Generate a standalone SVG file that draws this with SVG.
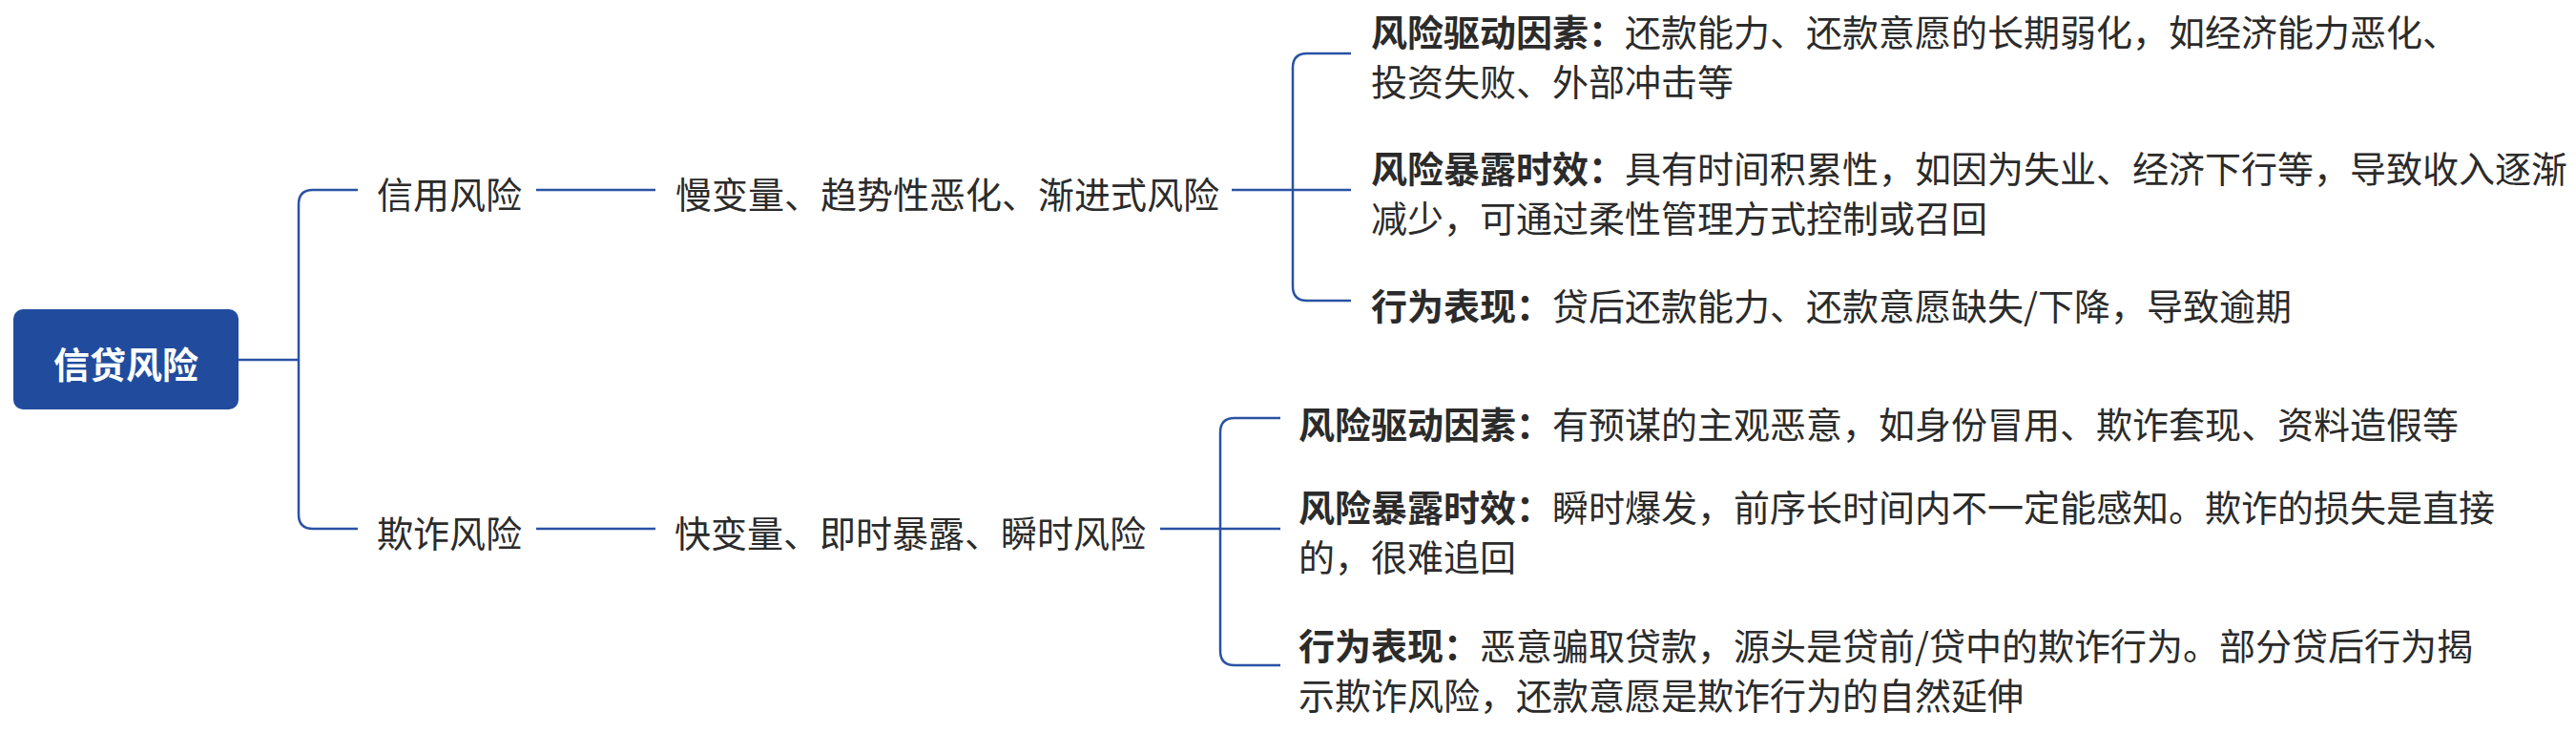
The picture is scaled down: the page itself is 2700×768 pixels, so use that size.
<svg xmlns="http://www.w3.org/2000/svg" width="2700" height="768" viewBox="0 0 2700 768">
<style>
.t{font-family:"Noto Sans CJK SC","Noto Sans",sans-serif;font-size:38px;fill:#2b2b2b;dominant-baseline:central}
.b{font-weight:bold}
.root{font-family:"Noto Sans CJK SC","Noto Sans",sans-serif;font-size:38px;font-weight:bold;fill:#ffffff;dominant-baseline:central}
.c{fill:none;stroke:#2a52a5;stroke-width:2.5}
</style>
<rect width="2700" height="768" fill="#ffffff"/>
<g id="connectors">
<path class="c" d="M250,377 H313"/>
<path class="c" d="M375,199 H328 Q313,199 313,214 V539 Q313,554 328,554 H375"/>
<path class="c" d="M562,199 H687"/>
<path class="c" d="M562,554 H687"/>
<path class="c" d="M1291,199 H1416"/>
<path class="c" d="M1416,56 H1370 Q1355,56 1355,71 V300 Q1355,315 1370,315 H1416"/>
<path class="c" d="M1216,554 H1342"/>
<path class="c" d="M1342,438 H1294 Q1279,438 1279,453 V682 Q1279,697 1294,697 H1342"/>
</g>
<g id="root">
<rect x="14" y="324" width="236" height="105" rx="10" fill="#214c9e"/>
<text class="root" x="132" y="379" text-anchor="middle">信贷风险</text>
</g>
<g id="credit">
<text class="t" x="395" y="201">信用风险</text>
</g>
<g id="fraud">
<text class="t" x="395" y="556">欺诈风险</text>
</g>
<g id="credit-feature">
<text class="t" x="708" y="201">慢变量、趋势性恶化、渐进式风险</text>
</g>
<g id="fraud-feature">
<text class="t" x="707" y="556">快变量、即时暴露、瞬时风险</text>
</g>
<g id="credit-driver">
<text class="t" x="1437" y="31"><tspan class="b">风险驱动因素：</tspan>还款能力、还款意愿的长期弱化，如经济能力恶化、</text>
<text class="t" x="1437" y="83">投资失败、外部冲击等</text>
</g>
<g id="credit-exposure">
<text class="t" x="1437" y="174"><tspan class="b">风险暴露时效：</tspan>具有时间积累性，如因为失业、经济下行等，导致收入逐渐</text>
<text class="t" x="1437" y="226">减少，可通过柔性管理方式控制或召回</text>
</g>
<g id="credit-behavior">
<text class="t" x="1437" y="318"><tspan class="b">行为表现：</tspan>贷后还款能力、还款意愿缺失/下降，导致逾期</text>
</g>
<g id="fraud-driver">
<text class="t" x="1361" y="442"><tspan class="b">风险驱动因素：</tspan>有预谋的主观恶意，如身份冒用、欺诈套现、资料造假等</text>
</g>
<g id="fraud-exposure">
<text class="t" x="1361" y="529"><tspan class="b">风险暴露时效：</tspan>瞬时爆发，前序长时间内不一定能感知。欺诈的损失是直接</text>
<text class="t" x="1361" y="581">的，很难追回</text>
</g>
<g id="fraud-behavior">
<text class="t" x="1361" y="674"><tspan class="b">行为表现：</tspan>恶意骗取贷款，源头是贷前/贷中的欺诈行为。部分贷后行为揭</text>
<text class="t" x="1361" y="726">示欺诈风险，还款意愿是欺诈行为的自然延伸</text>
</g>
</svg>
